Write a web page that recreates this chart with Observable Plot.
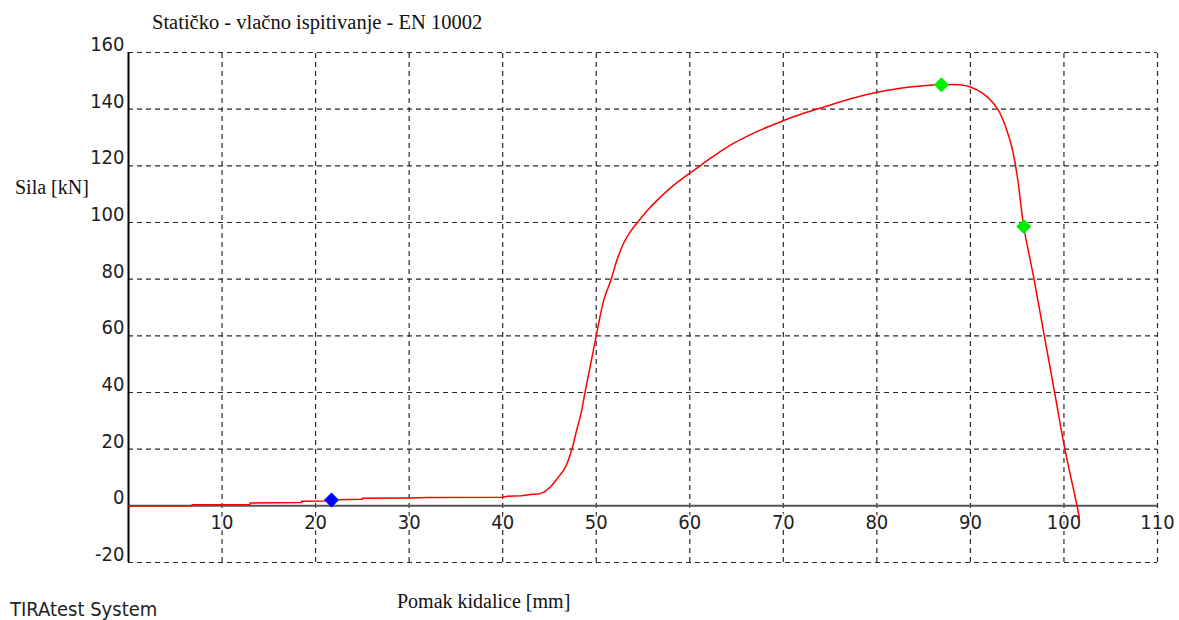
<!DOCTYPE html>
<html>
<head>
<meta charset="utf-8">
<script src="https://cdn.jsdelivr.net/npm/d3@7"></script>
<script src="https://cdn.jsdelivr.net/npm/@observablehq/plot@0.6"></script>
<style>
  html, body { margin: 0; padding: 0; background: #fff; }
  #wrap { position: relative; width: 1179px; height: 620px; overflow: hidden; }
  #wrap svg { position: absolute; left: 0; top: 0; }
  .serif { position: absolute; font-family: "Liberation Serif", "Times New Roman", serif; font-size: 20px; color: #111; white-space: nowrap; line-height: 1; }
  .sans { position: absolute; font-family: "DejaVu Sans Condensed", "DejaVu Sans", sans-serif; font-size: 20px; color: #222; white-space: nowrap; line-height: 1; }
</style>
</head>
<body>
<div id="wrap"></div>
<script>
// Displacement (mm) and force (kN)
const displacement = [0, 6.8, 6.8, 13, 13, 18.5, 18.5, 21, 21, 25, 25, 30, 32, 40, 40.5, 42, 43, 44, 44.5, 45.2, 45.8, 46.7, 47.4, 47.9, 48.4, 48.8, 49.4, 50, 50.8, 51.6, 52.2, 52.9, 53.6, 54.4, 55.4, 56.5, 58.3, 60, 60.8, 62.5, 64.3, 67, 69.9, 72, 74.3, 77.2, 80, 82.5, 85, 86.9, 88.9, 90, 91.4, 92.9, 93.9, 94.5, 95.0, 95.35, 95.7, 96.8, 97.9, 99.0, 100.1, 101.4, 101.65];
const force = [0, 0, 0.4, 0.5, 1.0, 1.2, 1.6, 1.7, 2.1, 2.3, 2.7, 2.8, 2.9, 3.0, 3.4, 3.6, 4.0, 4.3, 5.0, 7, 9.5, 13.6, 20, 26.6, 33, 40, 50, 60, 72.5, 80, 86.6, 92.5, 96.5, 100, 104, 107.8, 113.2, 117.4, 119.3, 123.3, 127.2, 131.8, 135.8, 138.4, 140.7, 143.7, 146, 147.4, 148.3, 148.6, 148.6, 147.8, 145.4, 140.1, 132.5, 125.6, 116.5, 107.5, 98.5, 80, 60, 40, 20, 0, -4.2];

// Marked points
const markerX = [21.7, 86.9, 95.7];
const markerY = [2.1, 148.6, 98.6];
const markerColor = ["#0000ff", "#00ee00", "#00ee00"];

// Tick values
const xTicks = [10, 20, 30, 40, 50, 60, 70, 80, 90, 100, 110];
const yTicks = [160, 140, 120, 100, 80, 60, 40, 20, 0, -20];

const curve = displacement.map((x, i) => ({x, y: force[i]}));
const lowPart = curve.filter(d => d.x <= 44.5);   // stepped, nearly flat section
const highPart = curve.filter(d => d.x >= 44.5);  // smooth loading curve
const markers = markerX.map((x, i) => ({x, y: markerY[i], c: markerColor[i]}));
const hGrid = yTicks.filter(v => v !== 0);

// square diamond (rotated square) symbol
const squareDiamond = {
  draw(context, size) {
    const h = Math.sqrt(size / Math.PI);
    context.moveTo(0, -h);
    context.lineTo(h, 0);
    context.lineTo(0, h);
    context.lineTo(-h, 0);
    context.closePath();
  }
};

const dash = "5,4";
const gridColor = "#2a2a2a";
const tickFont = "DejaVu Sans Condensed, DejaVu Sans, sans-serif";

const chart = Plot.plot({
  width: 1179,
  height: 620,
  marginLeft: 128,
  marginRight: 22,
  marginTop: 52,
  marginBottom: 58,
  x: {domain: [0, 110], axis: null},
  y: {domain: [-20, 160], axis: null},
  style: {background: "white", overflow: "visible"},
  marks: [
    Plot.ruleX(xTicks, {x: d => d, y1: -20, y2: 160, stroke: gridColor, strokeWidth: 1.2, strokeDasharray: dash}),
    Plot.ruleY(hGrid, {y: d => d, x1: 0, x2: 110, stroke: gridColor, strokeWidth: 1.2, strokeDasharray: dash}),
    Plot.text(xTicks, {x: d => d, y: 0, text: d => String(d), dy: 17, fontSize: 20,
      fontFamily: tickFont, fill: "#222", stroke: "white", strokeWidth: 4, textAnchor: "middle"}),
    Plot.ruleY([0], {x1: 0, x2: 110, stroke: "#555", strokeWidth: 2}),
    Plot.ruleX([0], {y1: -20, y2: 160, stroke: "#000", strokeWidth: 2}),
    Plot.text(yTicks, {x: 0, y: d => d, text: d => String(d), dx: -4, dy: -8, fontSize: 20,
      fontFamily: tickFont, fill: "#222", textAnchor: "end"}),
    Plot.line(lowPart, {x: "x", y: "y", stroke: "#ff0000", strokeWidth: 1.5, curve: "linear"}),
    Plot.line(highPart, {x: "x", y: "y", stroke: "#ff0000", strokeWidth: 1.5, curve: "catmull-rom"}),
    Plot.dot(markers, {x: "x", y: "y", fill: "c", symbol: squareDiamond, r: 7.5, stroke: null})
  ]
});

const wrap = document.getElementById("wrap");
wrap.appendChild(chart);

function label(text, cls, left, top, size) {
  const d = document.createElement("div");
  d.className = cls;
  d.textContent = text;
  d.style.left = left + "px";
  d.style.top = top + "px";
  if (size) d.style.fontSize = size + "px";
  wrap.appendChild(d);
}
label("Statičko - vlačno ispitivanje - EN 10002", "serif", 152, 12, 20.5);
label("Sila [kN]", "serif", 15, 177);
label("Pomak kidalice [mm]", "serif", 397, 591);
label("TIRAtest System", "sans", 10, 599);
</script>
</body>
</html>
